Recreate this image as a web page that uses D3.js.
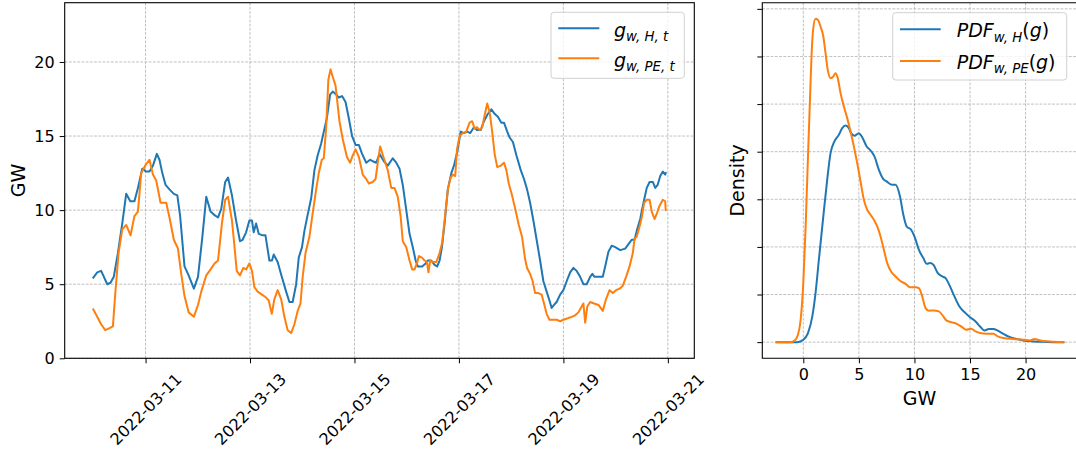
<!DOCTYPE html>
<html><head><meta charset="utf-8">
<script src="https://cdn.jsdelivr.net/npm/d3@7"></script>
<style>
body{margin:0;background:#fff}
svg{display:block}
text{font-family:"DejaVu Sans",sans-serif;fill:#000}
</style>
</head><body>
<svg id="c" width="1076" height="453"></svg>
<script>
// ---------- DATA ----------
const startDate = "2022-03-10T00:00:00";
// hours after start, wind generation (GW), series H
const hoursH = [0,1.8,3.6,6.4,7.9,9.4,11.3,13.3,15.1,17.0,18.9,20.5,22.5,24.3,25.8,27.4,29.2,30.4,31.7,33.2,35.0,37.0,38.6,39.9,41.9,43.8,46.2,48.1,50.1,51.9,53.9,55.4,57.3,58.8,60.6,61.9,63.7,65.6,67.4,68.6,70.2,71.7,72.9,73.7,74.8,76.0,77.8,79.1,80.9,82.1,82.9,84.7,86.6,88.6,90.1,91.6,93.2,94.4,95.9,97.0,98.5,100.1,101.6,103.1,104.7,105.9,107.3,108.8,110.0,111.6,112.8,114.3,115.9,117.4,118.9,120.5,122.0,123.5,125.4,127.2,128.4,130.0,131.5,132.7,133.5,135.3,137.6,139.2,140.7,142.2,143.8,145.3,146.8,148.1,149.1,151.1,152.7,153.7,155.3,156.8,158.0,159.1,160.2,161.4,162.9,164.5,165.7,167.2,168.8,170.3,171.8,173.2,174.9,176.3,178.0,179.5,181.3,182.9,184.4,185.9,187.5,188.7,190.2,191.3,192.8,194.4,196.4,197.9,199.3,200.7,202.2,203.7,205.3,206.8,208.3,209.6,210.6,211.7,212.9,214.5,216.0,217.5,219.1,220.6,222.1,223.7,225.2,226.7,228.3,229.3,230.3,232.1,234.1,235.2,236.7,238.2,239.8,242.1,244.4,245.9,247.4,248.7,249.7,251.3,252.8,254.3,255.6,257.1,258.2,259.3,260.5,261.7,262.8,263];
const valuesH = [5.45,5.8,5.9,5.0,5.1,5.5,7.1,9.1,11.1,10.6,10.6,11.5,12.8,12.6,12.6,13.0,13.8,13.4,12.5,11.7,11.4,11.1,11.0,9.6,6.2,5.6,4.7,5.5,8.2,10.9,9.9,9.7,9.5,10.1,11.9,12.2,11.0,9.3,7.9,8.0,8.5,9.3,9.3,8.5,9.1,8.4,8.3,8.3,6.6,6.6,7.0,6.5,5.5,4.5,3.8,3.8,5.0,6.8,7.5,8.6,9.7,10.8,12.7,13.7,14.5,15.3,16.2,17.8,18.0,17.8,17.6,17.7,17.3,16.2,15.0,14.4,14.4,13.8,13.2,13.4,13.3,13.2,13.8,13.5,13.3,13.0,13.5,13.2,12.8,11.7,10.0,8.4,7.5,6.6,6.2,6.2,6.4,6.6,6.6,6.3,6.2,6.6,7.5,9.1,11.4,12.5,13.0,13.9,15.3,15.2,15.3,15.2,15.6,15.4,15.4,16.0,16.5,16.8,16.5,16.3,15.9,15.9,15.3,14.9,14.6,13.7,12.7,12.1,11.4,10.5,9.3,8.0,6.6,5.2,4.5,3.9,3.4,3.6,3.8,4.3,4.6,5.2,5.8,6.1,5.9,5.5,5.0,5.0,5.5,5.7,5.5,5.5,5.5,6.2,7.2,7.6,7.5,7.3,7.4,7.7,8.0,8.0,8.6,9.4,10.5,11.5,11.9,11.9,11.5,11.7,12.3,12.6,12.4,12.5];
// series PE
const hoursPE = [0,1.8,3.6,5.5,7.0,9.0,10.1,11.6,13.3,15.1,17.1,18.9,20.5,22.0,23.8,25.8,27.4,28.9,30.9,33.5,35.0,37.0,38.9,40.4,41.9,43.8,46.2,48.1,49.6,51.9,53.9,55.7,57.3,59.1,60.6,61.9,63.7,64.9,65.9,67.4,68.9,70.2,71.7,72.9,74.0,75.5,77.5,79.4,80.6,82.0,83.2,84.7,86.3,87.8,89.3,90.9,92.4,93.9,95.2,96.2,97.5,99.3,100.8,102.4,103.6,105.0,105.9,107.0,108.0,109.0,110.0,111.3,113.1,114.6,116.5,118.0,119.2,120.5,122.0,123.8,125.4,126.6,128.4,129.7,130.7,131.8,133.5,135.3,136.9,138.4,139.9,141.2,142.2,143.8,145.3,146.5,147.6,148.7,149.6,151.0,152.2,153.3,154.0,154.8,156.0,157.6,159.1,160.3,161.4,162.9,164.2,165.2,166.3,167.1,168.3,169.8,171.4,172.9,174.1,175.2,176.3,177.5,178.7,179.8,181.0,182.1,183.2,184.4,185.6,187.2,188.7,189.8,190.9,192.4,194.0,195.5,197.0,198.4,199.3,200.7,201.9,203.0,204.5,206.0,207.1,208.3,209.6,211.4,212.9,214.5,216.0,218.0,219.8,221.4,222.9,224.4,225.2,226.0,227.0,228.3,230.1,232.1,234.1,235.6,237.2,238.7,240.2,241.8,243.3,244.8,246.4,247.9,248.7,249.7,251.0,252.0,253.1,254.3,255.6,256.6,257.9,259.0,260.2,261.7,262.8,263];
const valuesPE = [3.3,2.8,2.3,1.9,2.0,2.15,4.4,7.1,8.7,9.0,8.3,9.6,9.9,12.5,13.0,13.4,12.4,12.0,10.5,10.5,9.5,8.0,7.4,5.7,4.2,3.1,2.8,3.6,4.5,5.6,6.0,6.4,6.6,9.1,10.7,10.9,9.3,7.5,5.9,5.6,6.1,6.0,6.4,5.9,4.8,4.5,4.3,4.1,3.9,3.0,4.0,4.6,4.0,2.8,1.9,1.7,2.3,3.2,3.7,5.5,7.1,8.2,9.8,11.4,12.5,13.4,13.5,15.6,18.8,19.5,19.0,18.4,16.0,14.8,13.6,13.2,13.7,14.1,13.6,12.4,12.1,11.8,11.9,12.1,13.2,14.3,13.5,12.7,11.5,11.5,10.9,9.6,7.9,7.5,6.6,6.0,6.0,6.4,6.9,6.8,6.6,6.5,5.8,6.6,6.5,6.5,7.1,7.8,9.3,11.4,12.2,12.4,12.3,14.1,15.0,15.2,15.3,15.9,16.0,15.5,15.6,15.4,15.6,16.4,17.2,16.6,15.4,13.8,12.9,13.0,13.2,12.7,11.8,11.0,10.0,9.0,8.2,6.7,6.1,5.7,5.2,4.4,4.4,4.3,3.7,3.0,2.6,2.6,2.6,2.5,2.6,2.7,2.8,2.9,3.1,3.5,3.7,2.4,3.5,3.8,3.7,3.6,3.2,4.0,4.6,4.4,4.6,4.7,4.9,5.5,6.2,7.1,8.1,8.2,8.9,9.5,10.5,10.7,10.7,9.9,9.4,9.8,10.3,10.7,10.6,10.0];
const dateTicks = ["2022-03-11","2022-03-13","2022-03-15","2022-03-17","2022-03-19","2022-03-21"];
const gwTicksLeft = [0,5,10,15,20];
const gwTicksRight = [0,5,10,15,20];
const densityTicks = [0,0.02,0.04,0.06,0.08,0.10,0.12,0.14];
// density curves
const pdfGH = [-2.4,-0.54,0,0.42,0.81,1.1,1.4,1.8,2.15,2.45,2.8,3.2,3.5,3.8,4.1,4.3,4.6,5.0,5.3,5.7,6.05,6.4,6.8,7.2,7.5,8.0,8.3,8.7,9.0,9.3,9.7,10.0,10.4,10.8,11.1,11.4,11.7,12.1,12.5,12.8,13.2,13.6,14.05,14.6,15.0,15.5,15.9,16.3,16.7,17.1,17.5,18.0,18.6,19.2,19.8,20.7,21.9,23.4];
const pdfDH = [0,0,0.001,0.0038,0.0108,0.0206,0.0346,0.0528,0.0682,0.0794,0.0843,0.0871,0.0899,0.091,0.0899,0.0878,0.0867,0.0878,0.0861,0.0822,0.0805,0.078,0.0724,0.0685,0.0675,0.0661,0.0661,0.0612,0.0535,0.0486,0.0472,0.0444,0.0388,0.0353,0.0329,0.0332,0.0325,0.029,0.0276,0.0269,0.0234,0.0192,0.015,0.0122,0.0105,0.0087,0.0066,0.0049,0.0055,0.0055,0.0048,0.0035,0.0021,0.0013,0.0007,0.0003,0.0001,0];
const pdfGPE = [-2.4,-1.14,-0.78,-0.48,-0.24,0,0.21,0.42,0.6,0.75,0.9,1.1,1.3,1.55,1.8,2.0,2.2,2.45,2.7,2.9,3.1,3.35,3.65,3.95,4.25,4.55,4.85,5.15,5.45,5.75,6.05,6.35,6.65,6.95,7.25,7.55,7.9,8.3,8.7,9.2,9.6,10.1,10.4,10.7,11.0,11.3,11.7,12.2,12.6,12.9,13.4,13.8,14.3,14.65,15.1,15.5,15.9,16.5,17.1,17.5,18.0,18.9,19.8,20.4,20.8,21.3,22.2,23.4];
const pdfDPE = [0,0,0.0007,0.0031,0.0094,0.0248,0.0486,0.078,0.1018,0.1214,0.1319,0.1358,0.1354,0.1326,0.1284,0.1214,0.1144,0.1109,0.1116,0.113,0.1109,0.1046,0.099,0.0941,0.0885,0.0822,0.0752,0.0675,0.0598,0.0556,0.0535,0.0514,0.0486,0.0444,0.0388,0.0332,0.0297,0.0276,0.0258,0.0245,0.0231,0.0231,0.0227,0.0192,0.0143,0.0132,0.0133,0.0129,0.0108,0.009,0.0083,0.0077,0.0063,0.0052,0.0056,0.0045,0.0038,0.0035,0.0035,0.0024,0.0017,0.0013,0.001,0.0007,0.0013,0.0007,0.0003,0];
const colors = ["#1f77b4","#ff7f0e"];

// ---------- DRAW ----------
const svg = d3.select("#c");
const start = new Date(startDate);
const toDate = h => new Date(start.getTime() + h*3600e3);
const parseDay = d3.timeParse("%Y-%m-%d");

const L = {x0:64.7, x1:694.3, y0:2.7, y1:358.3};
const R = {x0:762.3, x1:1077.7, y0:2.7, y1:358.3};

const hExt = d3.extent(hoursH.concat(hoursPE));
const hPad = (hExt[1]-hExt[0])*0.05;
const xL = d3.scaleTime().domain([toDate(hExt[0]-hPad), toDate(hExt[1]+hPad)]).range([L.x0, L.x1]);
const yL = d3.scaleLinear().domain([0,24]).range([L.y1, L.y0]);

const gExt = d3.extent(pdfGH.concat(pdfGPE));
const gPad = (gExt[1]-gExt[0])*0.05;
const xR = d3.scaleLinear().domain([gExt[0]-gPad, gExt[1]+gPad]).range([R.x0, R.x1]);
const dMax = d3.max(pdfDPE.concat(pdfDH));
const yR = d3.scaleLinear().domain([-dMax*0.05, dMax*1.05]).range([R.y1, R.y0]);

const gridStyle = s => s.attr("stroke","#b0b0b0").attr("stroke-width",0.8).attr("stroke-dasharray","2.8,1.4");

// grids left
const gl = svg.append("g");
gl.selectAll("line.v").data(dateTicks).join("line")
  .attr("x1",d=>xL(parseDay(d))).attr("x2",d=>xL(parseDay(d))).attr("y1",L.y0).attr("y2",L.y1).call(gridStyle);
gl.selectAll("line.h").data(gwTicksLeft).join("line").attr("class","h")
  .attr("x1",L.x0).attr("x2",L.x1).attr("y1",d=>yL(d)).attr("y2",d=>yL(d)).call(gridStyle);
// grids right
const gr = svg.append("g");
gr.selectAll("line.v").data(gwTicksRight).join("line")
  .attr("x1",d=>xR(d)).attr("x2",d=>xR(d)).attr("y1",R.y0).attr("y2",R.y1).call(gridStyle);
gr.selectAll("line.h").data(densityTicks).join("line").attr("class","h")
  .attr("x1",R.x0).attr("x2",R.x1).attr("y1",d=>yR(d)).attr("y2",d=>yR(d)).call(gridStyle);

// lines left
const lineL = d3.line().x(d=>xL(toDate(d[0]))).y(d=>yL(d[1]));
const seriesL = [d3.zip(hoursH, valuesH), d3.zip(hoursPE, valuesPE)];
svg.append("g").selectAll("path").data(seriesL).join("path")
  .attr("d", lineL).attr("fill","none").attr("stroke",(d,i)=>colors[i])
  .attr("stroke-width",2).attr("stroke-linejoin","round").attr("stroke-linecap","square");

// lines right
const lineR = d3.line().curve(d3.curveMonotoneX).x(d=>xR(d[0])).y(d=>yR(d[1]));
const seriesR = [d3.zip(pdfGH, pdfDH), d3.zip(pdfGPE, pdfDPE)];
svg.append("g").selectAll("path").data(seriesR).join("path")
  .attr("d", lineR).attr("fill","none").attr("stroke",(d,i)=>colors[i])
  .attr("stroke-width",2).attr("stroke-linejoin","round").attr("stroke-linecap","square");

// axes left
const axXL = svg.append("g").attr("transform",`translate(0,${L.y1})`)
  .call(d3.axisBottom(xL).tickValues(dateTicks.map(parseDay)).tickFormat(d3.timeFormat("%Y-%m-%d")).tickSize(5).tickSizeOuter(0));
axXL.select(".domain").remove();
axXL.selectAll("text").attr("font-size",16).attr("y",null).attr("dy",null)
  .attr("text-anchor","middle").attr("dominant-baseline","central")
  .attr("transform","translate(0,51) rotate(-45)");
const axYL = svg.append("g").attr("transform",`translate(${L.x0},0)`)
  .call(d3.axisLeft(yL).tickValues(gwTicksLeft).tickSize(5).tickPadding(5).tickSizeOuter(0));
axYL.select(".domain").remove();
axYL.selectAll("text").attr("font-size",16);

// axes right
const axXR = svg.append("g").attr("transform",`translate(0,${R.y1})`)
  .call(d3.axisBottom(xR).tickValues(gwTicksRight).tickSize(5).tickPadding(5).tickSizeOuter(0));
axXR.select(".domain").remove();
axXR.selectAll("text").attr("font-size",16);
const axYR = svg.append("g").attr("transform",`translate(${R.x0},0)`)
  .call(d3.axisLeft(yR).tickValues(densityTicks).tickFormat("").tickSize(5).tickSizeOuter(0));
axYR.select(".domain").remove();
svg.selectAll(".tick line").attr("stroke","#000").attr("stroke-width",1);

// spines
svg.append("rect").attr("x",L.x0).attr("y",L.y0).attr("width",L.x1-L.x0).attr("height",L.y1-L.y0)
  .attr("fill","none").attr("stroke","#000").attr("stroke-width",1.1);
svg.append("path").attr("d",`M${R.x1},${R.y0}H${R.x0}V${R.y1}H${R.x1}`)
  .attr("fill","none").attr("stroke","#000").attr("stroke-width",1.1);

// axis labels
svg.append("text").attr("transform",`translate(25,${(L.y0+L.y1)/2}) rotate(-90)`)
  .attr("text-anchor","middle").attr("font-size",19).text("GW");
svg.append("text").attr("transform",`translate(744,${(R.y0+R.y1)/2}) rotate(-90)`)
  .attr("text-anchor","middle").attr("font-size",19).text("Density");
svg.append("text").attr("x",(xR(0)+xR(20))/2 + 5).attr("y",405)
  .attr("text-anchor","middle").attr("font-size",19).text("GW");

// legends
const legendLeft = [["g","w, H, t",""],["g","w, PE, t",""]];
const legendRight = [["PDF","w, H","(g)"],["PDF","w, PE","(g)"]];
function legend(x0,y0,w,h,lineX0,lineX1,textX,rows,rowY,baseY,items){
  const g = svg.append("g");
  g.append("rect").attr("x",x0).attr("y",y0).attr("width",w).attr("height",h).attr("rx",3)
    .attr("fill","#fff").attr("fill-opacity",0.8).attr("stroke","#d0d0d0").attr("stroke-width",1);
  items.forEach((it,i)=>{
    g.append("line").attr("x1",lineX0).attr("x2",lineX1).attr("y1",rowY[i]).attr("y2",rowY[i])
      .attr("stroke",colors[i]).attr("stroke-width",2);
    const t = g.append("text").attr("x",textX).attr("y",baseY[i]).attr("font-size",19);
    t.append("tspan").attr("font-style","italic").text(it[0]);
    t.append("tspan").attr("font-style","italic").attr("font-size",13.3).attr("dy",4.5).text(it[1]);
    if(it[2]){
      const p = t.append("tspan").attr("dy",-4.5);
      p.append("tspan").text("(");
      p.append("tspan").attr("font-style","italic").text("g");
      p.append("tspan").text(")");
    }
  });
}
legend(551,12.3,133.3,66,558.3,599.3,614,2,[28.3,58.3],[36.5,66.5],legendLeft);
legend(892.7,12.7,174,67.3,900,940.7,956.7,2,[29.3,61],[37,68.5],legendRight);
</script>
</body></html>
